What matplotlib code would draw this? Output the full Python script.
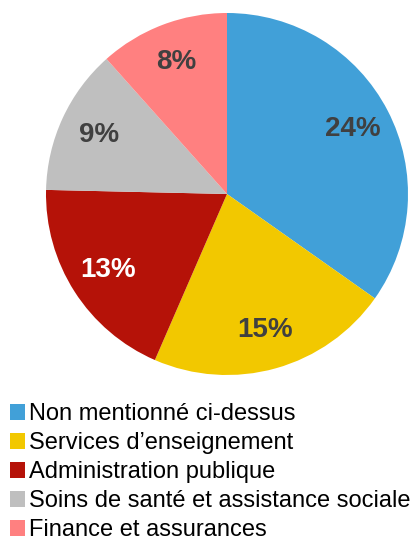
import matplotlib
matplotlib.use("Agg")
import matplotlib.pyplot as plt

categories = ["Non mentionné ci-dessus", "Services d’enseignement", "Administration publique",
              "Soins de santé et assistance sociale", "Finance et assurances"]
values = [24, 15, 13, 9, 8]
labels = ["24%", "15%", "13%", "9%", "8%"]
colors = ["#41A0D8", "#F2C800", "#B51208", "#BFBFBF", "#FF8080"]
label_colors = ["#404040", "#404040", "white", "#404040", "#404040"]

plt.rcParams['font.family'] = ['Liberation Sans', 'DejaVu Sans']

fig = plt.figure(figsize=(4.16, 5.43), dpi=100)
ax = fig.add_axes([46/416, 168/543, 362/416, 362/543])
wedges, texts = ax.pie(values, colors=colors, startangle=90, counterclock=False,
                       labels=labels, labeldistance=0.78, radius=1.0)
for t, c in zip(texts, label_colors):
    t.set_color(c)
    t.set_fontsize(20)
    t.set_fontweight('bold')
    t.set_ha('center')
    t.set_va('center')
ax.set_xlim(-1, 1)
ax.set_ylim(-1, 1)
ax.set_aspect('equal')
ax.axis('off')

leg = fig.legend(wedges, categories, loc='upper left', bbox_to_anchor=(10/416, 1 - 403/543),
                 frameon=False, fontsize=17, handlelength=0.64, handleheight=0.64,
                 handletextpad=0.17, labelspacing=0.30, borderaxespad=0, borderpad=0)
for t in leg.get_texts():
    t.set_color('black')

fig.savefig("out.png", dpi=100)
